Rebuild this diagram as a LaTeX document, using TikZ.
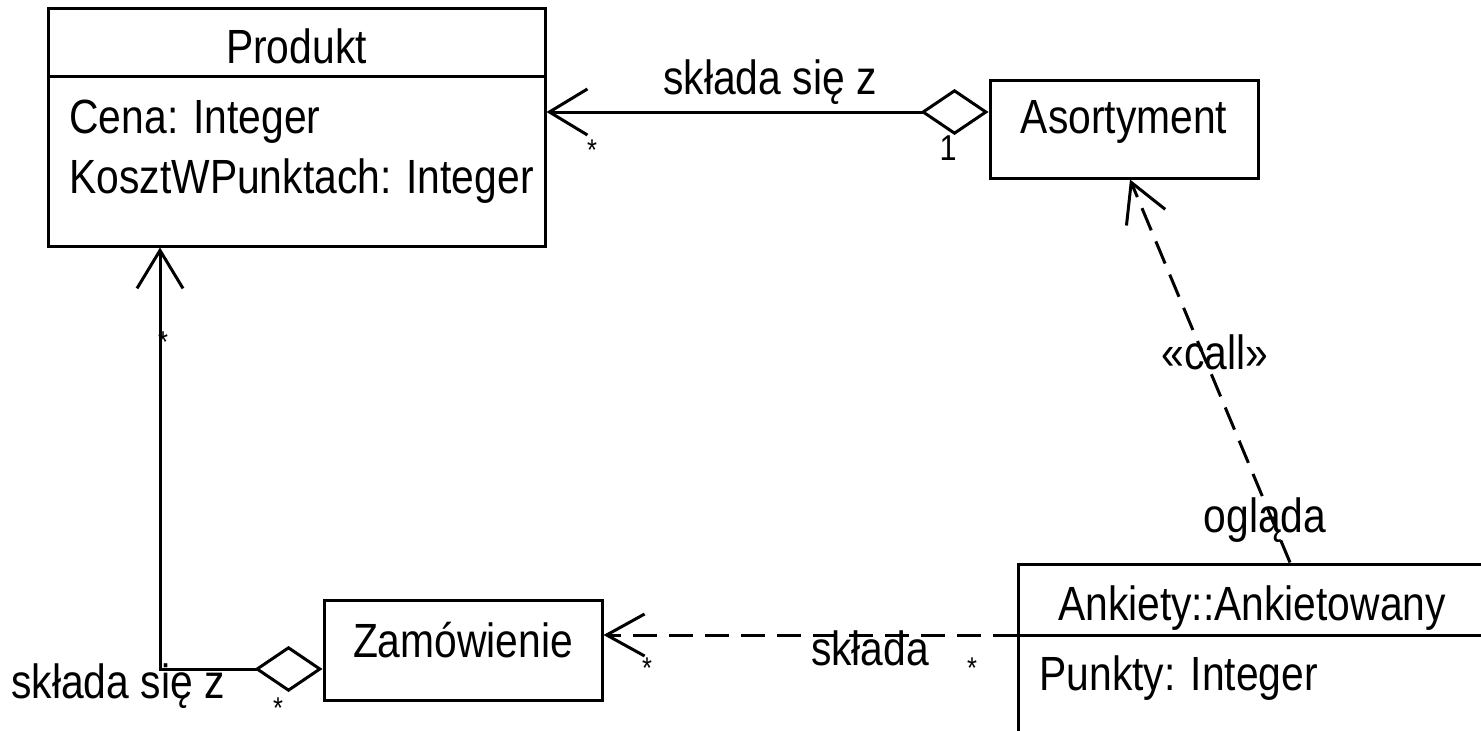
\documentclass[tikz,border=0pt]{standalone}
\usepackage{fontspec}
\setmainfont{Liberation Sans}[FakeStretch=0.85]
\usetikzlibrary{arrows.meta}
\begin{document}
\begin{tikzpicture}[x=1pt,y=-1pt,line width=3pt,
    box/.style={draw,rectangle,inner sep=0pt},
    txt/.style={font=\fontsize{48}{60}\selectfont,inner sep=0pt},
    mult/.style={font=\fontsize{30}{30}\selectfont,inner sep=0pt},
    aggr/.style={{Diamond[open,length=68pt,width=46pt]}-{Straight Barb[length=38pt,width=46pt]}},
    dep/.style={-{Straight Barb[length=38pt,width=42pt]},dash pattern=on 24pt off 12pt}]
    \useasboundingbox (0,0) rectangle (1481,731);
    % classes
    \node[box,minimum width=497pt,minimum height=238pt] (prod) at (296.5,127) {};
    \draw (prod.west |- 0,76) -- (prod.east |- 0,76);
    \node[txt,anchor=base] (prodname) at (296.5,63) {Produkt};
    \node[txt,anchor=base west] (cena) at (68,133) {Cena: Integer};
    \node[txt,anchor=base west] (koszt) at (68,193) {KosztWPunktach: Integer};
    \node[box,minimum width=268pt,minimum height=98pt] (asort) at (1124,129) {};
    \node[txt] (asortname) at (1124,122) {Asortyment};
    \node[box,minimum width=278pt,minimum height=100pt] (zam) at (463,650) {};
    \node[txt] (zamname) at (463,640) {Zamówienie};
    \node[box,minimum width=500pt,minimum height=240pt] (ank) at (1268,684) {};
    \draw (ank.west |- 0,635) -- (ank.east |- 0,635);
    \node[txt,anchor=base] (ankname) at (1252,620) {Ankiety::Ankietowany};
    \node[txt,anchor=base west] (punkty) at (1038,690) {Punkty: Integer};
    % connectors
    \draw[aggr] (asort.west |- 0,112) -- (prod.east |- 0,112);
    \node[txt] (l1) at (770,82) {składa się z};
    \node[mult] (m1) at (592,150) {*};
    \node[font=\fontsize{36}{36}\selectfont\rmfamily,inner sep=0pt] (m2) at (948,148) {1};
    \coordinate (bend) at (160,669);
    \draw[aggr] (zam.west |- bend) -- (bend) -- (prod.south -| bend);
    \node[txt] (l2) at (118,686) {składa się z};
    \node[mult] (m3) at (278,708) {*};
    \node[mult] (m4) at (163,342) {*};
    \draw[dep] (ank.west |- 0,635) -- (zam.east |- 0,635);
    \node[txt] (l3) at (870,648) {składa};
    \node[mult] (m5) at (647,668) {*};
    \node[mult] (m6) at (972,668) {*};
    \draw[dep] (ank.north -| 1290,0) -- (asort.south -| 1130,0);
    \node[txt] (l4) at (1215,352) {«call»};
    \node[txt] (l5) at (1265,520) {ogląda};
\end{tikzpicture}
\end{document}
